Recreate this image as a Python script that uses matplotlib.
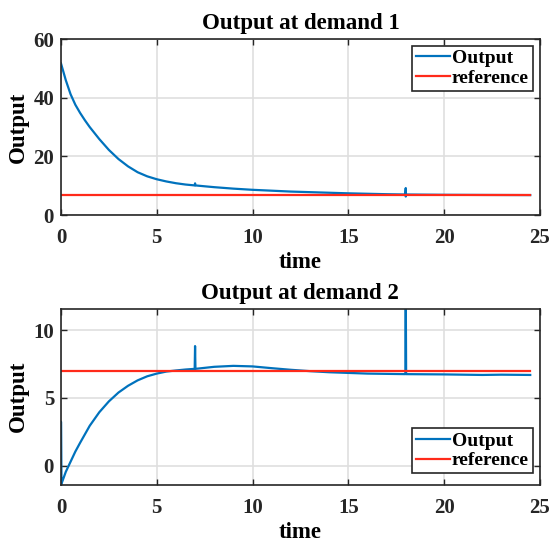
import matplotlib.pyplot as plt
import numpy as np

# demand 1 output (spikes kept as repeated time points)
t1 = [0, 0.25, 0.5, 0.75, 1, 1.25, 1.5, 2, 2.5, 3, 3.5, 4, 4.5, 5, 5.5, 6, 6.5, 6.98, 7.0, 7.02,
      7.5, 8, 9, 10, 11, 12, 13, 14, 15, 16, 17, 17.98, 18.0, 18.0, 18.02, 19, 20, 22, 24.5]
y1 = [51.7, 46.0, 41.2, 37.6, 34.8, 32.3, 30.0, 25.9, 22.2, 19.1, 16.6, 14.6, 13.2, 12.2, 11.45, 10.85, 10.4, 10.1, 10.8, 10.1,
      9.8, 9.5, 9.0, 8.6, 8.3, 8.0, 7.8, 7.6, 7.4, 7.25, 7.1, 7.0, 9.2, 6.3, 7.0, 6.95, 6.9, 6.85, 6.8]

# demand 2 output
t2 = [0, 0.0, 0.02, 0.25, 0.5, 0.75, 1, 1.5, 2, 2.5, 3, 3.5, 4, 4.5, 5, 5.5, 6, 6.5, 6.98, 7.0, 7.02,
      8, 9, 10, 11, 12, 13, 14, 15, 16, 17, 17.98, 18.0, 18.02, 19, 20, 21, 22, 23, 24.5]
y2 = [-1.42, 3.25, -1.35, -0.45, 0.3, 1.05, 1.7, 2.95, 3.95, 4.75, 5.4, 5.9, 6.3, 6.6, 6.8, 6.95, 7.03, 7.1, 7.15, 8.83, 7.15,
      7.3, 7.37, 7.33, 7.2, 7.08, 6.98, 6.9, 6.85, 6.8, 6.78, 6.76, 13.0, 6.76, 6.75, 6.74, 6.72, 6.7, 6.72, 6.7]

ref_t = [0, 24.5]
ref_val = [7, 7]

blue = '#0072BD'
red = '#FF2A1A'

plt.rcParams['font.family'] = ['Liberation Serif', 'DejaVu Serif']
plt.rcParams['font.weight'] = 'bold'
plt.rcParams['font.size'] = 15

fig = plt.figure(figsize=(5.51, 5.43), dpi=100)
ax1 = fig.add_axes([0.1107, 0.604, 0.869, 0.324])
ax2 = fig.add_axes([0.1107, 0.1068, 0.869, 0.325])


def style(ax, title):
    ax.set_title(title, fontweight='bold', fontsize=16.5, pad=7)
    ax.set_xlabel('time', fontweight='bold', fontsize=16.5, labelpad=3)
    ax.set_ylabel('Output', fontweight='bold', fontsize=16.5, labelpad=3)
    ax.grid(True, color='#DFDFDF', linewidth=1.2)
    ax.set_axisbelow(True)
    ax.tick_params(direction='in', top=True, right=True, length=4, width=1,
                   colors='#262626', labelsize=15)
    ax.tick_params(axis='x', pad=9)
    ax.tick_params(axis='y', pad=5)
    for s in ax.spines.values():
        s.set_color('#262626')
        s.set_linewidth(1.2)
    ax.set_xlim(0, 25)
    ax.set_xticks([0, 5, 10, 15, 20, 25])


def add_legend(ax, loc, anchor):
    leg = ax.legend(loc=loc, bbox_to_anchor=anchor, fancybox=False, edgecolor='#262626',
                    fontsize=14, handlelength=1.75, handletextpad=0.1, borderpad=0.2,
                    labelspacing=0.1, borderaxespad=0)
    leg.get_frame().set_linewidth(1.2)
    leg.get_frame().set_alpha(1)


ax1.plot(t1, y1, color=blue, linewidth=1.6, label='Output')
ax1.plot(ref_t, ref_val, color=red, linewidth=1.6, label='reference')
style(ax1, 'Output at demand 1')
ax1.set_ylim(0, 60)
ax1.set_yticks([0, 20, 40, 60])
add_legend(ax1, 'upper right', (0.985, 0.962))

ax2.plot(t2, y2, color=blue, linewidth=1.6, label='Output')
ax2.plot(ref_t, ref_val, color=red, linewidth=1.6, label='reference')
style(ax2, 'Output at demand 2')
ax2.set_ylim(-1.42, 11.6)
ax2.set_yticks([0, 5, 10])
add_legend(ax2, 'lower right', (0.985, 0.066))

plt.savefig('out.png', dpi=100)
